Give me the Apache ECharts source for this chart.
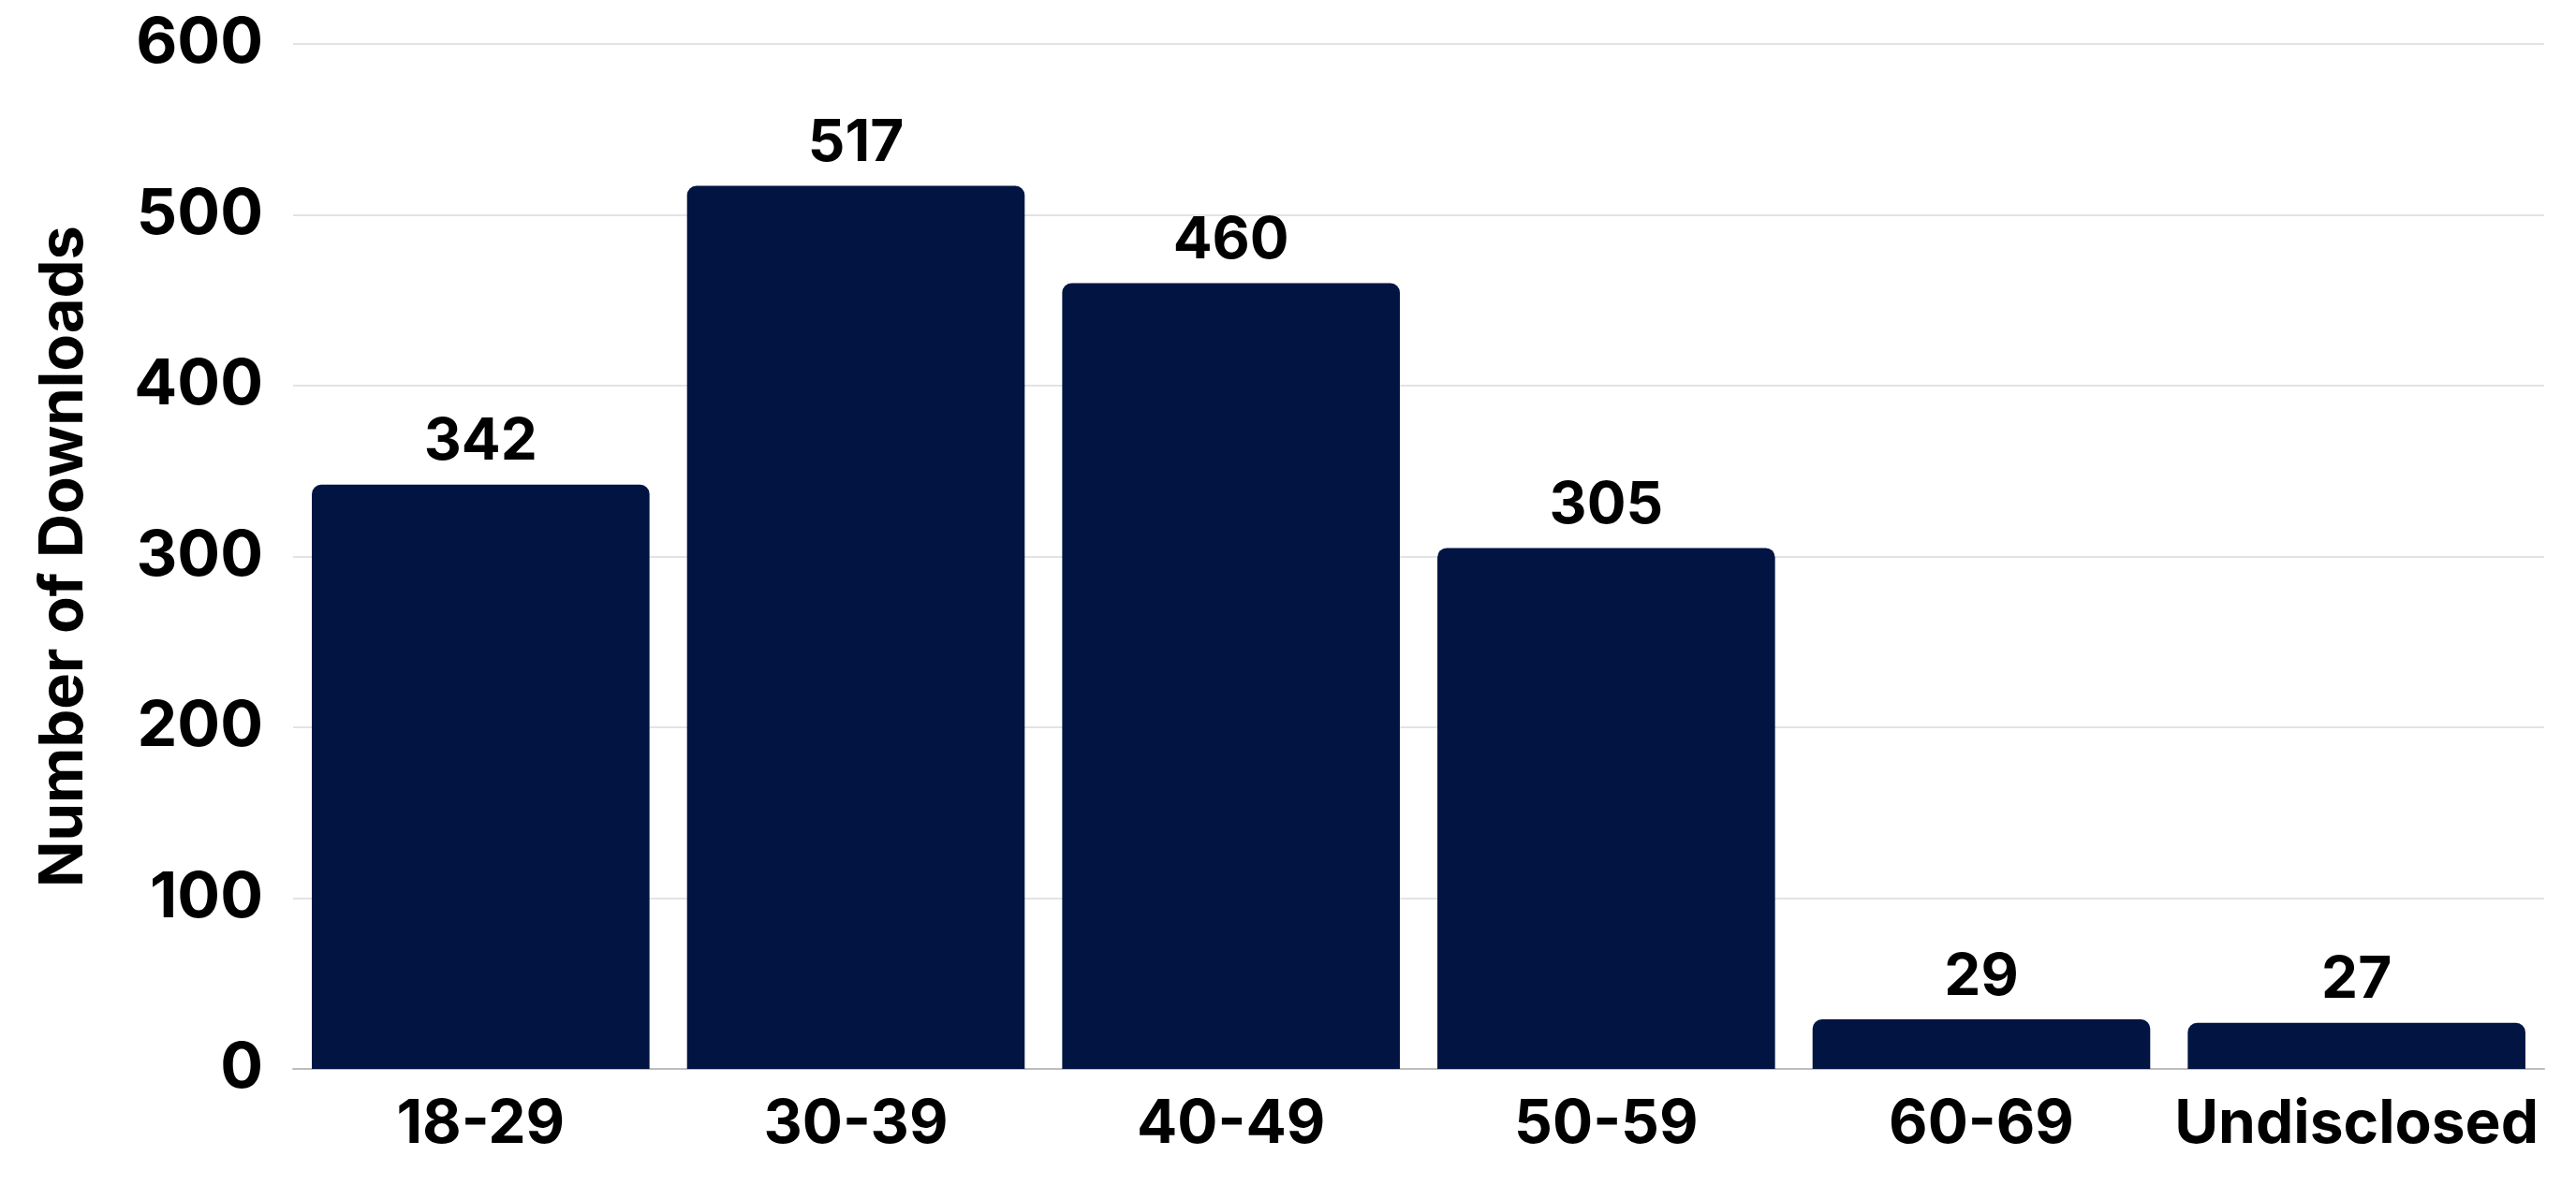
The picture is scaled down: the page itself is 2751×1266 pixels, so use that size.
<!DOCTYPE html>
<html>
<head>
<meta charset="utf-8">
<script src="https://cdn.jsdelivr.net/npm/echarts@6/dist/echarts.min.js"></script>
<style>
html,body{margin:0;padding:0;background:#fff;}
#chart{width:2751px;height:1266px;}
</style>
</head>
<body>
<div id="chart"></div>
<script>
const categories = ['18-29', '30-39', '40-49', '50-59', '60-69', 'Undisclosed'];
const downloads = [342, 517, 460, 305, 29, 27];
const yTicks = { min: 0, max: 600, interval: 100 };
const yTitle = 'Number of Downloads';

const FONT = 'Inter';
const chart = echarts.init(document.getElementById('chart'), null, { renderer: 'canvas' });
chart.setOption({
  backgroundColor: '#ffffff',
  animation: false,
  grid: { left: 313, right: 34, top: 47, bottom: 124, outerBoundsMode: 'none' },
  xAxis: {
    type: 'category',
    data: categories,
    axisLine: { show: true, lineStyle: { color: '#bdbdbd', width: 2 } },
    axisTick: { show: false },
    axisLabel: { color: '#000', fontFamily: FONT, fontWeight: 'bold', fontSize: 64, margin: 28, interval: 0 }
  },
  yAxis: {
    type: 'value',
    min: yTicks.min, max: yTicks.max, interval: yTicks.interval,
    name: yTitle,
    nameLocation: 'middle',
    nameGap: 212,
    nameRotate: 90,
    nameTextStyle: { color: '#000', fontFamily: FONT, fontWeight: 'bold', fontSize: 65 },
    axisLine: { show: false },
    axisTick: { show: false },
    axisLabel: { color: '#000', fontFamily: FONT, fontWeight: 'bold', fontSize: 68, margin: 32 },
    splitLine: { show: true, lineStyle: { color: '#e3e3e3', width: 2 } }
  },
  series: [{
    type: 'bar',
    data: downloads,
    barCategoryGap: '10%',
    itemStyle: { color: '#011442', borderRadius: [10, 10, 0, 0] },
    label: { show: true, position: 'top', distance: 14, color: '#000', fontFamily: FONT, fontWeight: 'bold', fontSize: 62 }
  }]
});
</script>
</body>
</html>
